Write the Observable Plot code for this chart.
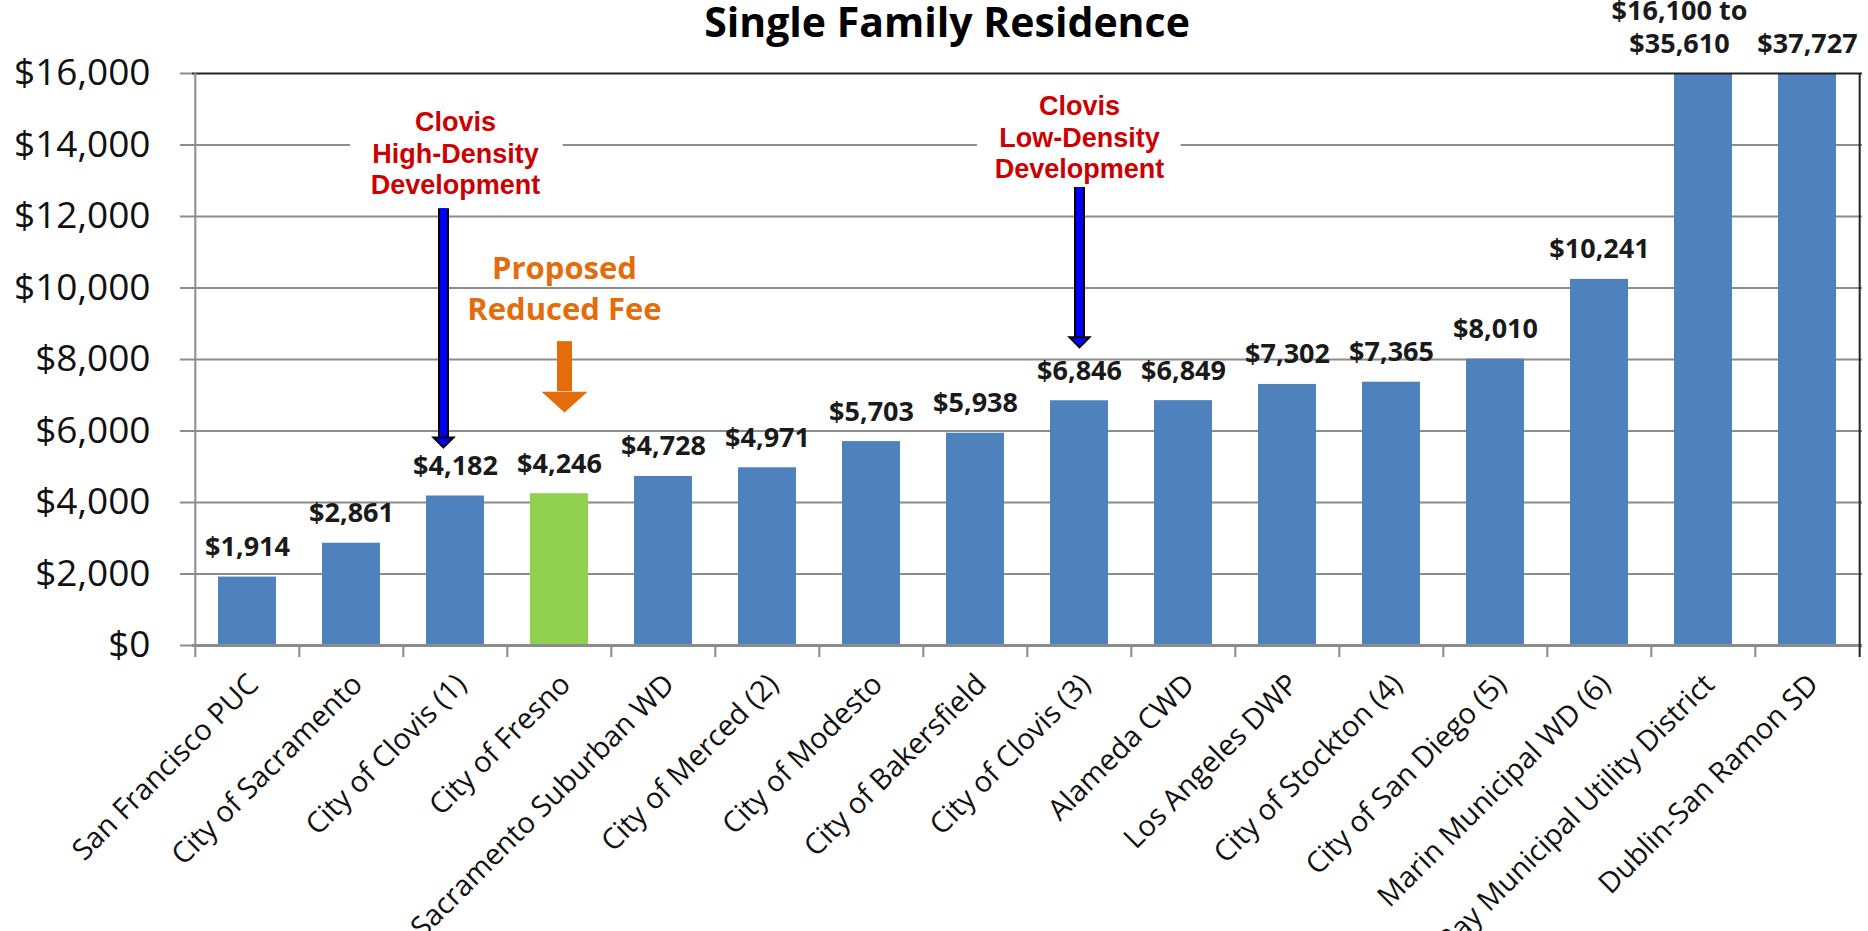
<!DOCTYPE html>
<html>
<head>
<meta charset="utf-8">
<script src="https://cdn.jsdelivr.net/npm/d3@7"></script>
<script src="https://cdn.jsdelivr.net/npm/@observablehq/plot@0.6"></script>
<style>
  body { margin: 0; background: #fff; }
  #wrap { position: relative; width: 1868px; height: 931px; overflow: hidden; background: #fff; }
  #title { position: absolute; left: 597px; top: 1px; width: 700px; text-align: center; white-space: nowrap;
           font: 700 41px "Open Sans", sans-serif; line-height: 41px; color: #000; z-index: 2; }
  #chart svg { display: block; }
</style>
</head>
<body>
<div id="wrap">
  <div id="title">Single Family Residence</div>
  <div id="chart"></div>
</div>
<script>
// ---- data ----
const categories = [
  "San Francisco PUC", "City of Sacramento", "City of Clovis (1)", "City of Fresno",
  "Sacramento Suburban WD", "City of Merced (2)", "City of Modesto", "City of Bakersfield",
  "City of Clovis (3)", "Alameda CWD", "Los Angeles DWP", "City of Stockton (4)",
  "City of San Diego (5)", "Marin Municipal WD (6)", "East Bay Municipal Utility District",
  "Dublin-San Ramon SD"
];
const fees = [1914, 2861, 4182, 4246, 4728, 4971, 5703, 5938, 6846, 6849, 7302, 7365, 8010, 10241, 35610, 37727];
const feeLabels = [
  "$1,914", "$2,861", "$4,182", "$4,246", "$4,728", "$4,971", "$5,703", "$5,938",
  "$6,846", "$6,849", "$7,302", "$7,365", "$8,010", "$10,241", "$16,100 to\n$35,610", "$37,727"
];
const highlightCategory = "City of Fresno";
const rangeLabelCategory = "East Bay Municipal Utility District";
const yTicks = [0, 2000, 4000, 6000, 8000, 10000, 12000, 14000, 16000];
const gridValues = [2000, 4000, 6000, 8000, 10000, 12000, 14000];
const yMax = 16000;

// annotations (data coordinates)
const noteCategories = ["City of Clovis (1)", "City of Clovis (3)"];
const noteTexts = ["Clovis\nHigh-Density\nDevelopment", "Clovis\nLow-Density\nDevelopment"];
const noteY = [13790, 14240];
const noteArrowTop = [12220, 12810];
const noteArrowBase = [5820, 8610];
const noteArrowTip = [5540, 8340];
const noteArrowShift = [-12, 0];

const proposedCategory = "City of Fresno";
const proposedText = "Proposed\nReduced Fee";
const proposedY = 10040;
const proposedArrowTop = 8500;
const proposedArrowBase = 7100;
const proposedArrowTip = 6520;

// ---- colours ----
const blue = "#4F81BD";
const green = "#92D050";
const gridGray = "#8c8c8c";
const red = "#CC0000";
const orange = "#E46C0A";

// ---- layout ----
const W = 1868, H = 931;
const mL = 192, mR = 6, mT = 73, mB = 286;
const step = (W - mL - mR) / categories.length;

const rows = categories.map((c, i) => ({cat: c, fee: fees[i], label: feeLabels[i]}));

const downHead = (k) => ({
  draw(ctx, size) {
    const r = Math.sqrt(size / Math.PI);
    ctx.moveTo(0, 0);
    ctx.lineTo(-r, -k * r);
    ctx.lineTo(r, -k * r);
    ctx.closePath();
  }
});

const noteFont = {fontFamily: "Liberation Sans, Arial, sans-serif", fontWeight: 700, fontSize: 27,
  lineHeight: 1.17, lineAnchor: "middle"};
const haloMarks = [], noteMarks = [];
noteCategories.forEach((c, i) => {
  // white halo behind the middle line only (it crosses a gridline)
  haloMarks.push(
    Plot.text([c], {x: d => d, y: noteY[i], text: [noteTexts[i].split("\n")[1]], fill: "white",
      stroke: "white", strokeWidth: 48, strokeLinejoin: "round", ...noteFont})
  );
  noteMarks.push(
    Plot.text([c], {x: d => d, y: noteY[i], text: [noteTexts[i]], fill: red, ...noteFont})
  );
});

const arrowMarks = [];
noteCategories.forEach((c, i) => {
  arrowMarks.push(
    Plot.ruleX([c], {x: d => d, y1: noteArrowBase[i], y2: noteArrowTop[i], dx: noteArrowShift[i],
      stroke: "#000", strokeWidth: 11, strokeLinecap: "butt"}),
    Plot.ruleX([c], {x: d => d, y1: noteArrowBase[i], y2: noteArrowTop[i], dx: noteArrowShift[i],
      stroke: "#0000FF", strokeWidth: 7, strokeLinecap: "butt", insetTop: 2}),
    Plot.dot([c], {x: d => d, y: noteArrowTip[i], dx: noteArrowShift[i], symbol: downHead(1), r: 10,
      fill: "#0000FF", stroke: "#000", strokeWidth: 2})
  );
});

const labelStyle = {x: "cat", y: d => Math.min(d.fee, yMax), text: "label", lineAnchor: "bottom", dy: -21,
  fontWeight: 700, fontSize: 27, lineHeight: 1.2, fill: "#1a1a1a"};

const chart = Plot.plot({
  width: W, height: H,
  marginLeft: mL, marginRight: mR, marginTop: mT, marginBottom: mB,
  style: {background: "transparent", fontFamily: "Open Sans, sans-serif", overflow: "visible"},
  x: {domain: categories, paddingInner: 0.44, paddingOuter: 0.22, axis: null},
  y: {domain: [0, yMax], axis: null},
  color: {type: "identity"},
  marks: [
    Plot.ruleY(gridValues, {stroke: gridGray, strokeWidth: 2}),
    Plot.axisY({ticks: yTicks, tickFormat: d => "$" + d3.format(",")(d), tickSize: 12,
      tickPadding: 30, fontSize: 37, stroke: gridGray, strokeWidth: 2, color: "#111", label: null}),
    Plot.barY(rows, {x: "cat", y: "fee", fill: d => d.cat === highlightCategory ? green : blue, clip: true}),
    ...haloMarks,
    ...noteMarks,
    Plot.text([proposedCategory], {x: d => d, y: proposedY, text: [proposedText], fill: orange,
      fontWeight: 700, fontSize: 31, lineHeight: 1.32, lineAnchor: "middle", dx: 5}),
    Plot.ruleX([proposedCategory], {x: d => d, y1: proposedArrowBase, y2: proposedArrowTop, dx: 5,
      stroke: orange, strokeWidth: 15}),
    Plot.dot([proposedCategory], {x: d => d, y: proposedArrowTip, dx: 5, symbol: downHead(0.9), r: 23,
      fill: orange, stroke: "none"}),
    Plot.ruleY([0], {stroke: gridGray, strokeWidth: 3}),
    Plot.ruleY([yMax], {stroke: "#222", strokeWidth: 2}),
    Plot.ruleX([categories[0]], {x: d => d, y1: 0, y2: yMax, dx: -step / 2, stroke: gridGray, strokeWidth: 2}),
    Plot.ruleX([categories[categories.length - 1]], {x: d => d, y1: 0, y2: yMax, dx: step / 2, stroke: "#222", strokeWidth: 2}),
    Plot.axisX({tickSize: 12, tickFormat: () => "", dx: -step / 2, stroke: gridGray, strokeWidth: 2, label: null}),
    Plot.axisX([categories[categories.length - 1]], {tickSize: 12, tickFormat: () => "", dx: step / 2, stroke: "#222", strokeWidth: 2, label: null}),
    Plot.axisX({tickSize: 0, tickPadding: 34, tickRotate: -45, fontSize: 29, dx: 6, color: "#111", label: null}),
    Plot.text(rows.filter(d => d.cat !== rangeLabelCategory), labelStyle),
    Plot.text(rows.filter(d => d.cat === rangeLabelCategory), {...labelStyle, dx: -24}),
    ...arrowMarks
  ]
});
document.getElementById("chart").appendChild(chart);
</script>
</body>
</html>
